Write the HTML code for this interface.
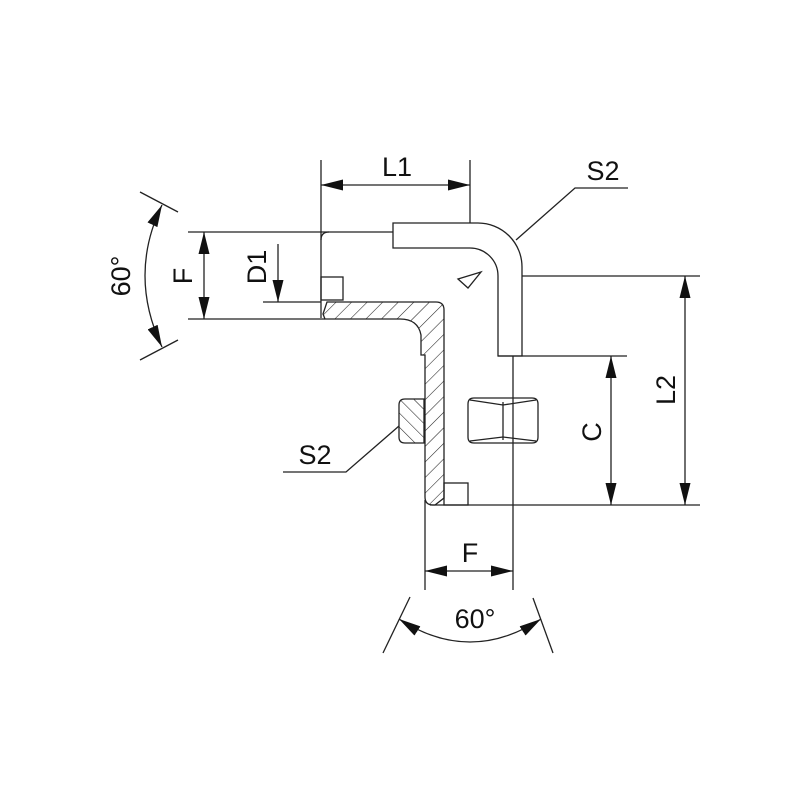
<!DOCTYPE html>
<html><head><meta charset="utf-8"><style>
html,body{margin:0;padding:0;background:#fff;}
svg{display:block;}
text{font-family:"Liberation Sans",sans-serif;fill:#111;}
</style></head><body>
<svg width="800" height="800" viewBox="0 0 800 800" xmlns="http://www.w3.org/2000/svg">
<defs>
<pattern id="h" patternUnits="userSpaceOnUse" width="11" height="11" patternTransform="rotate(45)">
<line x1="0" y1="0" x2="0" y2="11" stroke="#222" stroke-width="1.1"/>
</pattern>
<pattern id="h2" patternUnits="userSpaceOnUse" width="10" height="10" patternTransform="rotate(-45)">
<line x1="0" y1="0" x2="0" y2="10" stroke="#222" stroke-width="1.1"/>
</pattern>
<marker id="a" viewBox="0 0 10 10" refX="10" refY="5" markerWidth="22" markerHeight="11" markerUnits="userSpaceOnUse" preserveAspectRatio="none" orient="auto-start-reverse">
<path d="M0,0 L10,5 L0,10 z" fill="#111"/>
</marker>
</defs>
<g stroke="#222" stroke-width="1.3" fill="none">
<line x1="321" y1="160" x2="321" y2="318"/>
<line x1="470" y1="160" x2="470" y2="223"/>
<line x1="188" y1="232" x2="393" y2="232"/>
<line x1="188" y1="319" x2="325" y2="319"/>
<line x1="263" y1="302" x2="321" y2="302"/>
<line x1="522" y1="276" x2="700" y2="276"/>
<line x1="498" y1="356" x2="627" y2="356"/>
<line x1="430" y1="505" x2="700" y2="505"/>
<line x1="425" y1="500" x2="425" y2="590"/>
<line x1="513" y1="356" x2="513" y2="590"/>
<path d="M393,223 L478,223 A44,44 0 0 1 522,267 L522,356 L498,356 L498,276 A28,28 0 0 0 470,248 L393,248 Z"/>
<path d="M458,279 L481,272 L468,288 Z"/>
<path d="M321,240 Q321,232 329,232"/>
<rect x="321" y="277" width="22" height="23"/>
<rect x="444" y="483" width="24" height="22"/>
<path d="M325,319 L323,314 L327,302 L436,302 Q444,302 444,310 L444,498 L435,505 L433,505 Q425,505 425,497 L425,355 L421,355 L421,335 Q418,319 400,319 Z" fill="url(#h)"/>
<path d="M405,399 L424,399 L424,443 L405,443 Q399,443 399,437 L399,405 Q399,399 405,399 Z" fill="url(#h2)"/>
<path d="M474,398 L532,398 Q538,398 538,404 L538,437 Q538,443 532,443 L474,443 Q468,443 468,437 L468,404 Q468,398 474,398 Z"/>
<line x1="503" y1="402" x2="503" y2="440"/>
<path d="M470,400 L503,405 L536,400 M470,441 L503,437 L536,441"/>
<polyline points="516,240 575,188 628,188"/>
<polyline points="399,426 346,472 283,472"/>
<line x1="140" y1="192" x2="178" y2="212"/>
<line x1="140" y1="360" x2="178" y2="340"/>
<path d="M162,205 Q128,275 162,347" marker-start="url(#a)" marker-end="url(#a)"/>
<line x1="383" y1="653" x2="410" y2="597"/>
<line x1="553" y1="653" x2="533" y2="598"/>
<path d="M399,619 Q470,665 541,619" marker-start="url(#a)" marker-end="url(#a)"/>
<line x1="321" y1="185" x2="470" y2="185" marker-start="url(#a)" marker-end="url(#a)"/>
<line x1="204" y1="232" x2="204" y2="319" marker-start="url(#a)" marker-end="url(#a)"/>
<line x1="278" y1="244" x2="278" y2="302" marker-end="url(#a)"/>
<line x1="685" y1="276" x2="685" y2="505" marker-start="url(#a)" marker-end="url(#a)"/>
<line x1="611" y1="356" x2="611" y2="505" marker-start="url(#a)" marker-end="url(#a)"/>
<line x1="425" y1="571" x2="513" y2="571" marker-start="url(#a)" marker-end="url(#a)"/>
</g>
<g font-size="27">
<text x="397" y="176" text-anchor="middle">L1</text>
<text x="603" y="180" text-anchor="middle">S2</text>
<text x="315" y="464" text-anchor="middle">S2</text>
<text x="470" y="562" text-anchor="middle">F</text>
<text x="475" y="628" text-anchor="middle">60°</text>
<text transform="translate(192,276) rotate(-90)" text-anchor="middle">F</text>
<text transform="translate(266,267) rotate(-90)" text-anchor="middle">D1</text>
<text transform="translate(130,276) rotate(-90)" text-anchor="middle">60°</text>
<text transform="translate(601,432) rotate(-90)" text-anchor="middle">C</text>
<text transform="translate(675,390) rotate(-90)" text-anchor="middle">L2</text>
</g>
</svg>
</body></html>
